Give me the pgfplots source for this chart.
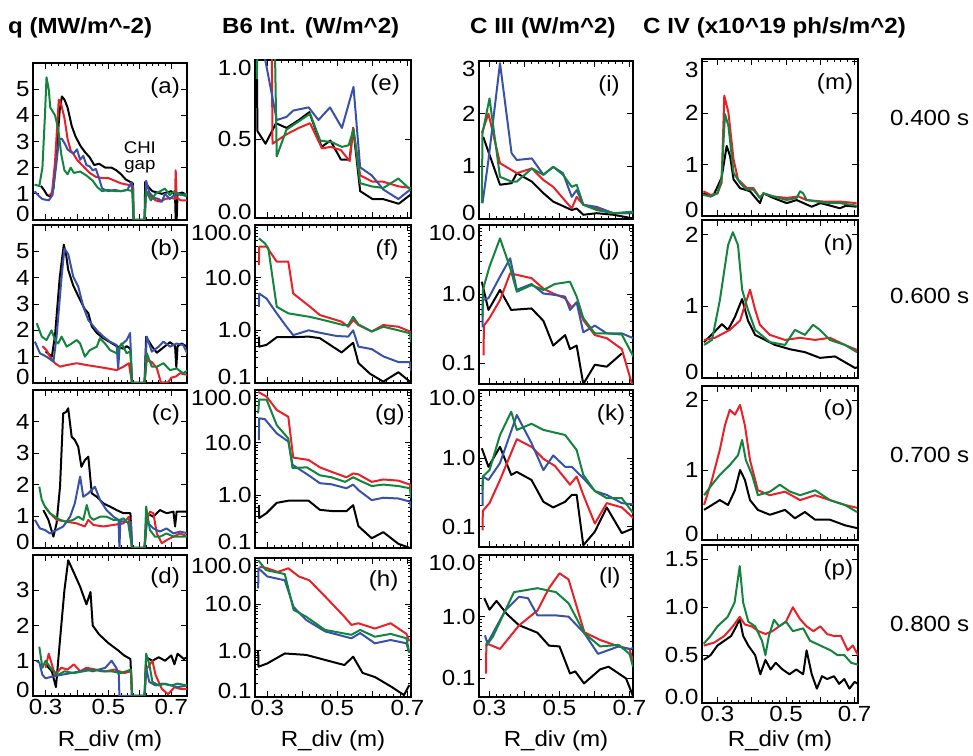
\documentclass[border=0pt]{standalone}
\usepackage{pgfplots}
\pgfplotsset{compat=1.18}
\usepackage{fontspec}
\setmainfont{Liberation Sans}[FakeStretch=1.1]
\definecolor{cred}{RGB}{232,32,40}
\definecolor{cblue}{RGB}{56,82,170}
\definecolor{cgreen}{RGB}{18,132,62}
\newcommand\up[1]{\raisebox{6bp}[\height][\depth]{#1}}
\newcommand\dn[1]{\raisebox{-8bp}[\height][\depth]{#1}}
\newcommand\tfont{\fontsize{22}{24}\selectfont}

\pgfplotsset{
  panel/.style={scale only axis, anchor=north west, no markers,
    axis line style={line width=1.4bp}, tick align=inside,
    major tick length=6bp, minor tick length=3bp,
    every tick/.append style={black, line width=0.9bp},
    tick label style={font=\tfont},
    xtick={0.3,0.4,0.5,0.6,0.7}, xticklabels={},
    minor x tick num=4,
    every axis plot/.append style={line width=2bp, line join=round},
  },
  bottom/.style={xticklabels={0.3,{},0.5,{},0.7}},
  col1/.style={panel, xmin=0.26, xmax=0.75, width=154bp},
  col2/.style={panel, xmin=0.265, xmax=0.71, width=156bp},
  col3/.style={panel, xmin=0.27, xmax=0.71, width=154bp},
  col4/.style={panel, xmin=0.255, xmax=0.71, width=156bp},
  logb/.style={ymin=0.1, ymax=100, ytick={0.1,1,10,100},
    yticklabels={\up{0.1},1.0,10.0,\dn{100.0}}},
  logc/.style={ymin=0.05, ymax=10, ytick={0.1,1,10},
    yticklabels={0.1,1.0,\dn{10.0}}},
}
\newcommand\plab[2]{\node[anchor=north east, font=\tfont, inner sep=0] at (rel axis cs:#1,0.91) {#2};}

\begin{document}
\begin{tikzpicture}
\useasboundingbox (0,0) rectangle (973bp,756bp);

% titles
\begin{scope}[every node/.style={anchor=west, inner sep=0, font=\bfseries\tfont}]
\node at (8bp,728bp) {q (MW/m\textasciicircum-2)};
\node at (222bp,728bp) {B6 Int. (W/m\textasciicircum2)};
\node at (470bp,728bp) {C III (W/m\textasciicircum2)};
\node at (643bp,728bp) {C IV (x10\textasciicircum19 ph/s/m\textasciicircum2)};
\end{scope}
\begin{scope}[every node/.style={anchor=west, inner sep=0, font=\tfont}]
\node at (890bp,638bp) {0.400 s};
\node at (890bp,460bp) {0.600 s};
\node at (890bp,301bp) {0.700 s};
\node at (890bp,132bp) {0.800 s};
\end{scope}
\begin{scope}[every node/.style={inner sep=0, font=\tfont}]
\node at (110bp,15bp) {R\_div (m)};
\node at (333bp,15bp) {R\_div (m)};
\node at (556bp,15bp) {R\_div (m)};
\node at (780bp,15bp) {R\_div (m)};
\end{scope}

% ---------- column 1: q ----------
\begin{axis}[col1, at={(33bp,693bp)}, height=157bp, ymin=0, ymax=6,
  ytick={0,1,2,3,4,5}, yticklabels={\up{0},1,2,3,4,5}]
\addplot[black] coordinates {(0.285,1.3) (0.295,1.15) (0.305,0.95) (0.315,0.9) (0.325,1.2) (0.335,2.6) (0.345,4.2) (0.352,4.72) (0.36,4.6) (0.37,4.3) (0.383,3.6) (0.395,3.2) (0.41,2.85) (0.425,2.6) (0.44,2.4) (0.455,2.1) (0.47,2.15) (0.49,2.0) (0.51,2.0) (0.525,1.9) (0.54,1.75) (0.555,1.55) (0.57,1.45) (0.578,1.4) (0.58,0) (0.615,0) (0.617,1.45) (0.628,1.25) (0.64,1.1) (0.655,1.05) (0.67,1.0) (0.685,1.05) (0.70,1.1) (0.712,0.95) (0.714,0) (0.717,0) (0.72,1.0) (0.735,1.05) (0.75,0.95)};
\addplot[cred] coordinates {(0.31,0.95) (0.32,1.0) (0.33,2.2) (0.342,4.6) (0.35,4.4) (0.36,3.9) (0.37,3.1) (0.38,2.65) (0.39,2.5) (0.40,2.3) (0.42,2.05) (0.44,1.8) (0.46,1.65) (0.48,1.6) (0.50,1.6) (0.52,1.5) (0.54,1.4) (0.56,1.35) (0.578,1.3) (0.58,0) (0.615,0) (0.62,1.1) (0.635,0.9) (0.65,0.75) (0.665,0.7) (0.68,0.8) (0.70,0.85) (0.712,0.8) (0.714,1.9) (0.717,0.85) (0.73,0.75) (0.75,0.75)};
\addplot[cblue] coordinates {(0.265,1.1) (0.28,0.9) (0.29,0.8) (0.31,0.75) (0.322,0.95) (0.333,2.0) (0.343,3.1) (0.352,3.1) (0.362,2.9) (0.37,2.7) (0.38,2.6) (0.39,2.55) (0.40,2.7) (0.41,2.3) (0.42,2.45) (0.43,2.1) (0.44,2.05) (0.45,1.9) (0.46,1.95) (0.47,1.6) (0.48,1.2) (0.50,1.1) (0.52,1.15) (0.54,1.1) (0.56,1.15) (0.574,1.45) (0.58,0) (0.615,0) (0.62,1.5) (0.63,1.05) (0.645,0.85) (0.66,0.8) (0.67,0.7) (0.68,1.0) (0.695,0.8) (0.71,0.95) (0.725,1.0) (0.75,0.9)};
\addplot[cgreen] coordinates {(0.265,1.35) (0.28,1.3) (0.29,2.0) (0.298,4.0) (0.303,5.45) (0.31,5.0) (0.315,4.3) (0.33,4.0) (0.34,3.5) (0.35,2.5) (0.36,1.9) (0.37,1.75) (0.38,2.0) (0.39,1.8) (0.41,1.85) (0.43,1.7) (0.45,1.5) (0.465,1.25) (0.48,1.1) (0.50,1.15) (0.52,1.1) (0.54,1.1) (0.56,1.15) (0.578,1.1) (0.58,0) (0.615,0) (0.62,1.1) (0.635,0.75) (0.65,1.0) (0.665,1.1) (0.68,1.2) (0.695,0.95) (0.71,1.1) (0.73,0.95) (0.75,1.0)};
\node[align=center, font=\fontsize{17}{16}\selectfont, inner sep=0] at (axis cs:0.60,2.4) {CHI\\gap};
\plab{0.955}{(a)}
\end{axis}

\begin{axis}[col1, at={(33bp,531bp)}, height=158bp, ymin=0, ymax=6,
  ytick={0,1,2,3,4,5}, yticklabels={\up{0},1,2,3,4,5}]
\addplot[black] coordinates {(0.30,1.2) (0.32,1.0) (0.33,1.8) (0.345,4.0) (0.358,5.25) (0.365,4.9) (0.372,4.3) (0.388,3.7) (0.40,3.4) (0.41,3.15) (0.425,2.8) (0.436,2.65) (0.447,2.15) (0.463,1.9) (0.484,1.7) (0.505,1.55) (0.526,1.4) (0.548,1.3) (0.558,1.4) (0.57,1.3) (0.575,0) (0.615,0) (0.62,1.75) (0.638,1.4) (0.654,1.15) (0.675,1.35) (0.696,1.55) (0.712,1.4) (0.716,0.6) (0.72,1.4) (0.733,1.5) (0.754,1.35)};
\addplot[cred] coordinates {(0.29,1.4) (0.303,1.25) (0.314,1.0) (0.33,0.75) (0.346,0.62) (0.367,0.68) (0.399,0.75) (0.431,0.68) (0.463,0.62) (0.494,0.56) (0.526,0.49) (0.548,0.62) (0.565,0.75) (0.575,0) (0.615,0) (0.622,0.87) (0.638,0.8) (0.654,0.56) (0.667,0.02) (0.69,0.02) (0.70,0.2) (0.715,0.25) (0.728,0.37) (0.754,0.3)};
\addplot[cblue] coordinates {(0.266,1.57) (0.282,1.13) (0.303,1.0) (0.325,0.81) (0.335,1.76) (0.351,4.04) (0.36,5.1) (0.372,4.9) (0.388,4.04) (0.404,3.66) (0.42,2.9) (0.436,2.39) (0.463,2.0) (0.484,1.76) (0.505,1.57) (0.526,1.44) (0.531,0.56) (0.536,1.4) (0.558,1.63) (0.569,1.9) (0.575,0) (0.615,0) (0.622,1.76) (0.638,1.19) (0.66,1.38) (0.675,1.57) (0.696,1.38) (0.717,1.5) (0.738,1.44) (0.754,1.06)};
\addplot[cgreen] coordinates {(0.272,2.27) (0.288,1.76) (0.303,1.63) (0.319,2.0) (0.33,1.63) (0.34,1.5) (0.351,1.76) (0.367,1.38) (0.383,1.5) (0.399,1.63) (0.41,1.5) (0.425,1.0) (0.441,1.25) (0.463,1.38) (0.473,1.7) (0.489,1.5) (0.505,1.25) (0.526,1.13) (0.542,1.5) (0.558,1.13) (0.57,1.2) (0.575,0) (0.615,0) (0.622,1.13) (0.638,0.62) (0.654,0.62) (0.675,0.75) (0.696,0.49) (0.717,0.55) (0.738,0.37) (0.754,0.49)};
\plab{0.955}{(b)}
\end{axis}

\begin{axis}[col1, at={(33bp,366bp)}, height=158bp, ymin=0, ymax=5,
  ytick={0,1,2,3,4}, yticklabels={\up{0},1,2,3,4}]
\addplot[black] coordinates {(0.293,1.2) (0.309,0.89) (0.325,0.36) (0.335,0.78) (0.346,1.94) (0.356,4.26) (0.365,4.3) (0.372,4.42) (0.383,3.52) (0.393,3.42) (0.404,3.2) (0.414,2.57) (0.425,2.78) (0.436,2.89) (0.447,1.73) (0.463,1.62) (0.484,1.41) (0.505,1.31) (0.526,1.2) (0.548,1.1) (0.57,1.1) (0.575,0) (0.615,0) (0.622,1.1) (0.643,0.99) (0.664,1.2) (0.685,1.1) (0.707,1.15) (0.712,0.68) (0.717,1.15) (0.754,1.15)};
\addplot[cred] coordinates {(0.298,1.31) (0.314,1.1) (0.335,0.89) (0.367,0.83) (0.399,0.78) (0.425,0.68) (0.436,0.89) (0.452,0.73) (0.484,0.68) (0.516,0.73) (0.548,0.78) (0.565,0.99) (0.575,0) (0.615,0) (0.622,0.89) (0.632,1.15) (0.643,1.1) (0.654,0.46) (0.67,0.15) (0.685,0.25) (0.707,0.36) (0.728,0.46) (0.754,0.36)};
\addplot[cblue] coordinates {(0.266,0.89) (0.282,0.62) (0.298,0.57) (0.314,0.46) (0.335,0.57) (0.356,0.68) (0.378,0.99) (0.393,1.41) (0.41,2.26) (0.42,1.62) (0.436,1.73) (0.457,1.94) (0.473,1.52) (0.494,1.2) (0.516,0.99) (0.532,0.89) (0.535,0) (0.538,0.85) (0.558,0.83) (0.572,0.83) (0.575,0) (0.615,0) (0.622,0.83) (0.643,0.62) (0.664,0.52) (0.685,0.62) (0.707,0.46) (0.728,0.52) (0.754,0.46)};
\addplot[cgreen] coordinates {(0.28,1.94) (0.288,1.52) (0.298,1.31) (0.314,1.1) (0.33,0.99) (0.346,0.89) (0.367,0.83) (0.388,0.89) (0.404,0.99) (0.42,0.89) (0.431,1.36) (0.441,0.99) (0.452,0.89) (0.473,0.99) (0.494,0.99) (0.516,0.89) (0.537,0.89) (0.548,0.94) (0.563,0.78) (0.575,0) (0.615,0) (0.62,1.31) (0.632,0.57) (0.648,0.36) (0.664,0.36) (0.685,0.46) (0.707,0.36) (0.728,0.36) (0.754,0.36)};
\plab{0.955}{(c)}
\end{axis}

\begin{axis}[col1, bottom, at={(33bp,201bp)}, height=141bp, ymin=0, ymax=4,
  ytick={0,1,2,3}, yticklabels={\up{0},1,2,3}]
\addplot[black] coordinates {(0.30,0.9) (0.32,0.7) (0.333,0.25) (0.345,1.5) (0.36,3.0) (0.372,3.85) (0.39,3.5) (0.41,3.1) (0.43,2.6) (0.443,2.95) (0.45,2.0) (0.47,1.75) (0.50,1.5) (0.53,1.3) (0.55,1.15) (0.57,1.05) (0.575,0) (0.615,0) (0.62,1.1) (0.64,1.0) (0.66,1.1) (0.68,1.0) (0.70,1.15) (0.71,0.9) (0.72,1.2) (0.74,1.05) (0.75,1.1)};
\addplot[cred] coordinates {(0.30,0.8) (0.31,1.2) (0.32,0.9) (0.33,0.6) (0.35,0.8) (0.37,0.75) (0.39,0.9) (0.41,0.7) (0.43,0.8) (0.46,0.75) (0.49,0.7) (0.52,0.75) (0.55,0.65) (0.572,0.7) (0.575,0) (0.615,0) (0.62,0.75) (0.64,1.0) (0.65,0.6) (0.67,0.2) (0.69,0.05) (0.71,0.25) (0.73,0.2) (0.75,0.2)};
\addplot[cblue] coordinates {(0.27,1.0) (0.28,0.95) (0.29,0.6) (0.30,0.5) (0.32,0.55) (0.35,0.6) (0.38,0.65) (0.41,0.7) (0.43,0.75) (0.45,0.7) (0.47,0.75) (0.49,0.8) (0.51,1.0) (0.525,0.8) (0.533,0.6) (0.535,0) (0.615,0) (0.62,0.8) (0.63,0.4) (0.65,0.3) (0.67,0.35) (0.70,0.3) (0.72,0.25) (0.75,0.3)};
\addplot[cgreen] coordinates {(0.28,1.4) (0.29,0.8) (0.30,1.0) (0.32,0.75) (0.34,0.6) (0.36,0.7) (0.39,0.65) (0.42,0.7) (0.45,0.75) (0.48,0.7) (0.51,0.7) (0.54,0.65) (0.572,0.75) (0.575,0) (0.615,0) (0.62,1.2) (0.63,0.9) (0.64,0.4) (0.66,0.3) (0.68,0.35) (0.70,0.3) (0.72,0.35) (0.75,0.3)};
\plab{0.955}{(d)}
\end{axis}

% ---------- column 2: B6 ----------
\begin{axis}[col2, at={(255bp,696bp)}, height=158bp, ymin=0, ymax=1,
  ytick={0,0.5,1}, yticklabels={\up{0.0},0.5,\dn{1.0}}]
\addplot[black] coordinates {(0.270,1.05) (0.272,0.55) (0.295,0.47) (0.325,0.60) (0.355,0.57) (0.39,0.62) (0.42,0.67) (0.455,0.45) (0.48,0.49) (0.51,0.37) (0.535,0.37) (0.545,0.57) (0.565,0.17) (0.60,0.12) (0.63,0.12) (0.675,0.09) (0.71,0.15)};
\addplot[cred] coordinates {(0.313,1.05) (0.315,0.47) (0.355,0.53) (0.39,0.57) (0.422,0.60) (0.456,0.44) (0.48,0.45) (0.51,0.43) (0.535,0.36) (0.545,0.57) (0.565,0.27) (0.60,0.23) (0.63,0.23) (0.675,0.20) (0.71,0.19)};
\addplot[cblue] coordinates {(0.29,1.05) (0.327,0.62) (0.355,0.64) (0.374,0.68) (0.418,0.70) (0.446,0.62) (0.479,0.70) (0.513,0.57) (0.546,0.83) (0.565,0.32) (0.598,0.27) (0.631,0.18) (0.674,0.12) (0.708,0.18)};
\addplot[cgreen] coordinates {(0.270,0.88) (0.272,1.05) (0.322,1.05) (0.327,0.39) (0.355,0.56) (0.389,0.61) (0.422,0.66) (0.451,0.49) (0.484,0.48) (0.513,0.45) (0.532,0.46) (0.546,0.56) (0.565,0.22) (0.598,0.20) (0.631,0.19) (0.674,0.25) (0.708,0.18)};
\plab{0.93}{(e)}
\end{axis}

\begin{axis}[col2, ymode=log, logb, at={(255bp,531bp)}, height=158bp]
\addplot[black] coordinates {(0.276,0.76) (0.277,0.49) (0.298,0.53) (0.327,0.74) (0.374,0.74) (0.418,0.76) (0.45,0.71) (0.512,0.38) (0.545,0.58) (0.56,0.24) (0.593,0.15) (0.631,0.106) (0.674,0.16) (0.707,0.106)};
\addplot[cred] coordinates {(0.276,17.4) (0.277,38.8) (0.298,38.8) (0.327,20.1) (0.36,20.1) (0.374,5.0) (0.422,2.8) (0.45,1.95) (0.512,1.46) (0.531,1.17) (0.545,1.57) (0.56,1.26) (0.598,0.95) (0.631,1.26) (0.674,1.17) (0.707,0.95) (0.71,0.7)};
\addplot[cblue] coordinates {(0.276,2.8) (0.277,5.0) (0.298,4.0) (0.327,2.1) (0.355,1.17) (0.374,0.81) (0.418,1.0) (0.45,0.9) (0.498,0.78) (0.531,0.76) (0.545,1.0) (0.56,0.49) (0.598,0.44) (0.631,0.32) (0.674,0.25) (0.707,0.25) (0.71,0.17)};
\addplot[cgreen] coordinates {(0.276,55.8) (0.293,45) (0.303,36) (0.327,2.8) (0.36,2.1) (0.422,1.8) (0.46,1.57) (0.517,1.26) (0.531,1.26) (0.545,1.8) (0.56,1.3) (0.598,0.95) (0.631,1.17) (0.674,1.0) (0.707,0.88) (0.71,0.6)};
\plab{0.92}{(f)}
\end{axis}

\begin{axis}[col2, ymode=log, logb, at={(255bp,366bp)}, height=158bp]
\addplot[black] coordinates {(0.276,0.65) (0.277,0.37) (0.298,0.46) (0.327,0.72) (0.36,0.79) (0.418,0.79) (0.45,0.53) (0.488,0.5) (0.526,0.5) (0.545,0.65) (0.56,0.26) (0.598,0.153) (0.631,0.2) (0.674,0.12) (0.707,0.1)};
\addplot[cred] coordinates {(0.274,92) (0.298,75) (0.327,41.7) (0.36,31) (0.374,5.2) (0.418,4.7) (0.45,3.4) (0.483,2.8) (0.526,2.2) (0.545,2.6) (0.56,2.5) (0.598,1.8) (0.631,2.0) (0.674,1.9) (0.707,1.6) (0.71,1.1)};
\addplot[cblue] coordinates {(0.276,11.2) (0.277,29) (0.293,28) (0.327,15) (0.36,10.5) (0.372,3.8) (0.418,2.4) (0.45,1.7) (0.483,1.62) (0.526,1.36) (0.545,1.6) (0.56,1.26) (0.598,0.81) (0.631,0.9) (0.674,0.87) (0.707,0.76) (0.71,0.57)};
\addplot[cgreen] coordinates {(0.274,36) (0.277,66) (0.298,66) (0.327,21.5) (0.36,12) (0.372,3.3) (0.413,3.4) (0.45,2.4) (0.483,2.2) (0.522,1.8) (0.545,2.2) (0.56,1.96) (0.598,1.5) (0.631,1.6) (0.674,1.5) (0.707,1.36) (0.71,0.88)};
\plab{0.96}{(g)}
\end{axis}

\begin{axis}[col2, ymode=log, logb, bottom, at={(255bp,198bp)}, height=139bp]
\addplot[black] coordinates {(0.274,1.0) (0.275,0.45) (0.30,0.53) (0.35,0.87) (0.411,0.81) (0.483,0.58) (0.52,0.49) (0.545,0.74) (0.572,0.33) (0.607,0.27) (0.652,0.17) (0.69,0.11) (0.705,0.18)};
\addplot[cred] coordinates {(0.2775,65) (0.30,60) (0.33,50) (0.36,60) (0.39,40) (0.42,33) (0.47,13.5) (0.52,5.4) (0.54,3.6) (0.56,3.9) (0.607,3.0) (0.652,3.9) (0.697,2.3) (0.705,1.6)};
\addplot[cblue] coordinates {(0.274,22) (0.275,60) (0.30,40) (0.35,33) (0.375,8.8) (0.411,4.6) (0.465,2.6) (0.54,1.85) (0.565,2.4) (0.607,1.44) (0.652,1.7) (0.697,1.44) (0.705,0.9)};
\addplot[cgreen] coordinates {(0.274,90) (0.296,55) (0.35,45) (0.375,7.6) (0.411,5.4) (0.465,2.8) (0.54,2.2) (0.565,2.8) (0.607,2.0) (0.652,2.3) (0.697,1.85) (0.705,0.9)};
\plab{0.92}{(h)}
\end{axis}

% ---------- column 3: C III ----------
\begin{axis}[col3, at={(479bp,695bp)}, height=158bp, ymin=0, ymax=3,
  ytick={0,1,2,3}, yticklabels={\up{0},1,2,\dn{3}}]
\addplot[black] coordinates {(0.282,1.56) (0.33,0.65) (0.363,0.68) (0.378,0.87) (0.421,0.71) (0.454,0.49) (0.482,0.33) (0.535,0.17) (0.549,0.2) (0.568,0.08) (0.606,0.11) (0.654,0.08) (0.711,0.01)};
\addplot[cred] coordinates {(0.278,1.63) (0.297,2.0) (0.33,1.06) (0.378,0.87) (0.421,0.96) (0.454,0.74) (0.482,0.61) (0.535,0.2) (0.549,0.42) (0.568,0.27) (0.606,0.2) (0.654,0.11) (0.711,0.11)};
\addplot[cblue] coordinates {(0.28,0.3) (0.297,1.12) (0.33,2.96) (0.363,1.25) (0.378,1.12) (0.421,1.15) (0.454,0.84) (0.482,0.99) (0.51,0.87) (0.535,0.42) (0.549,0.55) (0.568,0.27) (0.606,0.23) (0.654,0.11) (0.711,0.11)};
\addplot[cgreen] coordinates {(0.278,0.3) (0.28,1.63) (0.30,2.29) (0.33,0.8) (0.363,0.71) (0.378,0.71) (0.421,0.96) (0.454,0.84) (0.482,0.99) (0.51,0.84) (0.535,0.61) (0.549,0.65) (0.568,0.27) (0.606,0.17) (0.654,0.11) (0.711,0.14)};
\plab{0.915}{(i)}
\end{axis}

\begin{axis}[col3, ymode=log, logc, at={(479bp,531bp)}, height=159bp]
\addplot[black] coordinates {(0.278,1.51) (0.297,0.59) (0.33,1.15) (0.362,0.59) (0.42,0.62) (0.454,0.41) (0.482,0.18) (0.516,0.255) (0.53,0.16) (0.549,0.18) (0.568,0.05) (0.601,0.095) (0.635,0.089) (0.678,0.138)};
\addplot[cred] coordinates {(0.283,0.13) (0.284,0.35) (0.30,0.45) (0.33,0.82) (0.359,2.0) (0.378,1.9) (0.42,1.7) (0.454,1.2) (0.482,1.02) (0.516,0.87) (0.535,0.64) (0.549,0.76) (0.568,0.42) (0.601,0.255) (0.635,0.23) (0.678,0.16) (0.707,0.05)};
\addplot[cblue] coordinates {(0.28,0.33) (0.281,0.82) (0.297,0.87) (0.33,1.79) (0.359,3.3) (0.378,1.15) (0.42,1.4) (0.454,1.02) (0.482,0.98) (0.516,0.92) (0.53,0.59) (0.549,0.76) (0.568,0.28) (0.601,0.35) (0.635,0.27) (0.678,0.27) (0.711,0.23)};
\addplot[cgreen] coordinates {(0.28,0.47) (0.281,1.15) (0.30,2.5) (0.33,6.4) (0.359,2.4) (0.378,1.08) (0.42,1.35) (0.454,1.15) (0.487,1.4) (0.53,1.51) (0.549,0.92) (0.568,0.45) (0.601,0.27) (0.635,0.27) (0.678,0.26) (0.711,0.125)};
\plab{0.915}{(j)}
\end{axis}

\begin{axis}[col3, ymode=log, logc, at={(479bp,366bp)}, height=157bp]
\addplot[black] coordinates {(0.278,1.4) (0.297,0.75) (0.33,1.47) (0.362,0.57) (0.378,0.63) (0.42,0.48) (0.454,0.23) (0.482,0.19) (0.516,0.23) (0.535,0.29) (0.549,0.29) (0.568,0.053) (0.601,0.084) (0.635,0.19) (0.678,0.08) (0.711,0.094)};
\addplot[cred] coordinates {(0.28,0.088) (0.281,0.17) (0.30,0.22) (0.33,0.48) (0.378,1.9) (0.42,1.47) (0.454,0.98) (0.487,0.77) (0.53,0.41) (0.549,0.54) (0.568,0.29) (0.601,0.11) (0.635,0.22) (0.678,0.19) (0.711,0.133)};
\addplot[cblue] coordinates {(0.28,0.2) (0.281,0.54) (0.297,0.48) (0.33,0.85) (0.378,4.3) (0.42,1.66) (0.454,0.67) (0.482,1.1) (0.516,0.75) (0.535,0.75) (0.568,0.51) (0.601,0.33) (0.635,0.29) (0.678,0.22) (0.711,0.21)};
\addplot[cgreen] coordinates {(0.28,0.34) (0.281,0.54) (0.30,0.67) (0.33,2.19) (0.362,4.8) (0.378,2.6) (0.42,3.2) (0.454,2.6) (0.516,2.19) (0.549,1.32) (0.568,0.57) (0.601,0.33) (0.635,0.26) (0.678,0.26) (0.711,0.156)};
\plab{0.95}{(k)}
\end{axis}

\begin{axis}[col3, ymode=log, logc, bottom, at={(479bp,201bp)}, height=142bp]
\addplot[black] coordinates {(0.285,2.0) (0.30,1.3) (0.32,1.8) (0.35,1.1) (0.384,0.73) (0.437,0.55) (0.47,0.34) (0.50,0.33) (0.53,0.12) (0.545,0.13) (0.57,0.083) (0.616,0.14) (0.64,0.155) (0.69,0.1) (0.71,0.052)};
\addplot[cred] coordinates {(0.29,0.12) (0.291,0.37) (0.33,0.30) (0.384,0.72) (0.437,1.26) (0.47,2.9) (0.50,5.06) (0.526,4.0) (0.571,0.56) (0.616,0.42) (0.669,0.33) (0.70,0.3) (0.71,0.19)};
\addplot[cblue] coordinates {(0.287,0.5) (0.294,0.37) (0.345,1.26) (0.384,2.1) (0.41,2.0) (0.437,1.05) (0.49,1.05) (0.526,1.0) (0.571,0.54) (0.61,0.25) (0.669,0.33) (0.70,0.30) (0.71,0.31)};
\addplot[cgreen] coordinates {(0.29,0.33) (0.31,0.48) (0.37,2.5) (0.437,2.9) (0.49,2.5) (0.526,1.65) (0.571,0.54) (0.616,0.33) (0.669,0.35) (0.70,0.25) (0.71,0.155)};
\plab{0.92}{(l)}
\end{axis}

% ---------- column 4: C IV ----------
\begin{axis}[col4, at={(702bp,697bp)}, height=157bp, ymin=0, ymax=3.05,
  ytick={0,1,2,3}, yticklabels={\up{0},1,2,\dn{3}}]
\addplot[black] coordinates {(0.259,0.44) (0.28,0.38) (0.289,0.41) (0.312,0.74) (0.327,1.36) (0.337,1.16) (0.347,0.71) (0.366,0.54) (0.395,0.48) (0.424,0.25) (0.434,0.44) (0.463,0.35) (0.502,0.25) (0.531,0.31) (0.575,0.18) (0.60,0.25) (0.619,0.22) (0.657,0.15) (0.675,0.2) (0.706,0.18)};
\addplot[cred] coordinates {(0.259,0.48) (0.28,0.41) (0.30,0.44) (0.312,0.64) (0.32,2.34) (0.332,2.01) (0.347,1.1) (0.36,0.71) (0.386,0.54) (0.405,0.54) (0.424,0.35) (0.434,0.44) (0.463,0.38) (0.502,0.35) (0.536,0.38) (0.56,0.31) (0.61,0.28) (0.657,0.28) (0.706,0.25)};
\addplot[cgreen] coordinates {(0.259,0.41) (0.28,0.38) (0.30,0.44) (0.312,0.71) (0.322,1.98) (0.332,1.75) (0.347,0.84) (0.366,0.64) (0.386,0.51) (0.405,0.51) (0.424,0.35) (0.434,0.44) (0.463,0.38) (0.502,0.31) (0.531,0.35) (0.541,0.48) (0.55,0.44) (0.56,0.31) (0.61,0.26) (0.657,0.25) (0.706,0.2)};
\plab{0.97}{(m)}
\end{axis}

\begin{axis}[col4, at={(702bp,536bp)}, height=158bp, ymin=0, ymax=2.2,
  ytick={0,1,2}, yticklabels={\up{0},1,2}]
\addplot[black] coordinates {(0.261,0.5) (0.293,0.65) (0.313,0.75) (0.331,0.67) (0.351,0.85) (0.372,1.1) (0.389,0.8) (0.41,0.6) (0.439,0.53) (0.468,0.46) (0.512,0.4) (0.555,0.36) (0.599,0.28) (0.643,0.3) (0.672,0.22) (0.701,0.14) (0.71,0.15)};
\addplot[cred] coordinates {(0.261,0.53) (0.293,0.56) (0.336,0.67) (0.366,0.8) (0.395,1.23) (0.41,0.95) (0.424,0.74) (0.453,0.6) (0.497,0.53) (0.541,0.56) (0.585,0.53) (0.628,0.56) (0.672,0.46) (0.707,0.39)};
\addplot[cgreen] coordinates {(0.261,0.46) (0.284,0.53) (0.307,1.08) (0.331,1.85) (0.345,2.03) (0.36,1.85) (0.372,1.23) (0.389,0.95) (0.41,0.67) (0.453,0.5) (0.497,0.46) (0.526,0.67) (0.555,0.6) (0.579,0.74) (0.599,0.67) (0.628,0.53) (0.672,0.46) (0.707,0.36)};
\plab{0.97}{(n)}
\end{axis}

\begin{axis}[col4, at={(702bp,370bp)}, height=154bp, ymin=0, ymax=2.2,
  ytick={0,1,2}, yticklabels={\up{0},1,2}]
\addplot[black] coordinates {(0.261,0.43) (0.284,0.5) (0.307,0.57) (0.331,0.5) (0.351,0.71) (0.366,1.0) (0.38,0.86) (0.395,0.57) (0.418,0.43) (0.453,0.36) (0.497,0.43) (0.526,0.31) (0.555,0.4) (0.585,0.29) (0.628,0.29) (0.672,0.21) (0.707,0.17)};
\addplot[cred] coordinates {(0.261,0.5) (0.284,0.86) (0.307,1.29) (0.322,1.64) (0.336,1.86) (0.351,1.79) (0.366,1.93) (0.38,1.64) (0.395,1.14) (0.418,0.71) (0.453,0.64) (0.497,0.69) (0.541,0.57) (0.585,0.64) (0.628,0.57) (0.672,0.5) (0.707,0.46)};
\addplot[cgreen] coordinates {(0.261,0.64) (0.284,0.79) (0.307,0.93) (0.336,1.07) (0.36,1.21) (0.372,1.43) (0.383,1.14) (0.401,0.93) (0.418,0.64) (0.453,0.69) (0.482,0.79) (0.512,0.69) (0.541,0.64) (0.585,0.71) (0.628,0.57) (0.672,0.5) (0.707,0.4)};
\plab{0.97}{(o)}
\end{axis}

\begin{axis}[col4, bottom, at={(702bp,211bp)}, height=158bp, ymin=0, ymax=1.65,
  ytick={0,0.5,1,1.5}, yticklabels={\up{0.0},0.5,1.0,1.5}]
\addplot[black] coordinates {(0.26,0.45) (0.28,0.5) (0.30,0.6) (0.32,0.65) (0.34,0.7) (0.355,0.8) (0.365,0.88) (0.375,0.7) (0.39,0.6) (0.41,0.5) (0.425,0.3) (0.44,0.45) (0.455,0.35) (0.47,0.42) (0.49,0.35) (0.51,0.3) (0.53,0.35) (0.55,0.3) (0.56,0.55) (0.575,0.3) (0.59,0.15) (0.605,0.28) (0.62,0.25) (0.64,0.28) (0.655,0.2) (0.67,0.25) (0.685,0.15) (0.70,0.22) (0.71,0.2)};
\addplot[cred] coordinates {(0.26,0.6) (0.29,0.63) (0.32,0.7) (0.345,0.8) (0.365,0.9) (0.38,0.82) (0.40,0.8) (0.42,0.75) (0.44,0.72) (0.46,0.75) (0.48,0.8) (0.50,0.85) (0.52,1.0) (0.54,0.88) (0.56,0.8) (0.58,0.75) (0.60,0.8) (0.62,0.72) (0.64,0.7) (0.66,0.7) (0.68,0.55) (0.695,0.6) (0.71,0.5)};
\addplot[cgreen] coordinates {(0.26,0.62) (0.28,0.7) (0.30,0.8) (0.33,0.9) (0.35,1.05) (0.365,1.43) (0.375,1.05) (0.39,0.85) (0.41,0.8) (0.43,0.65) (0.44,0.5) (0.45,0.7) (0.465,0.87) (0.48,0.8) (0.50,0.85) (0.52,0.75) (0.55,0.78) (0.57,0.65) (0.60,0.6) (0.63,0.55) (0.65,0.5) (0.67,0.5) (0.69,0.42) (0.71,0.4)};
\plab{0.97}{(p)}
\end{axis}
\end{tikzpicture}
\end{document}
